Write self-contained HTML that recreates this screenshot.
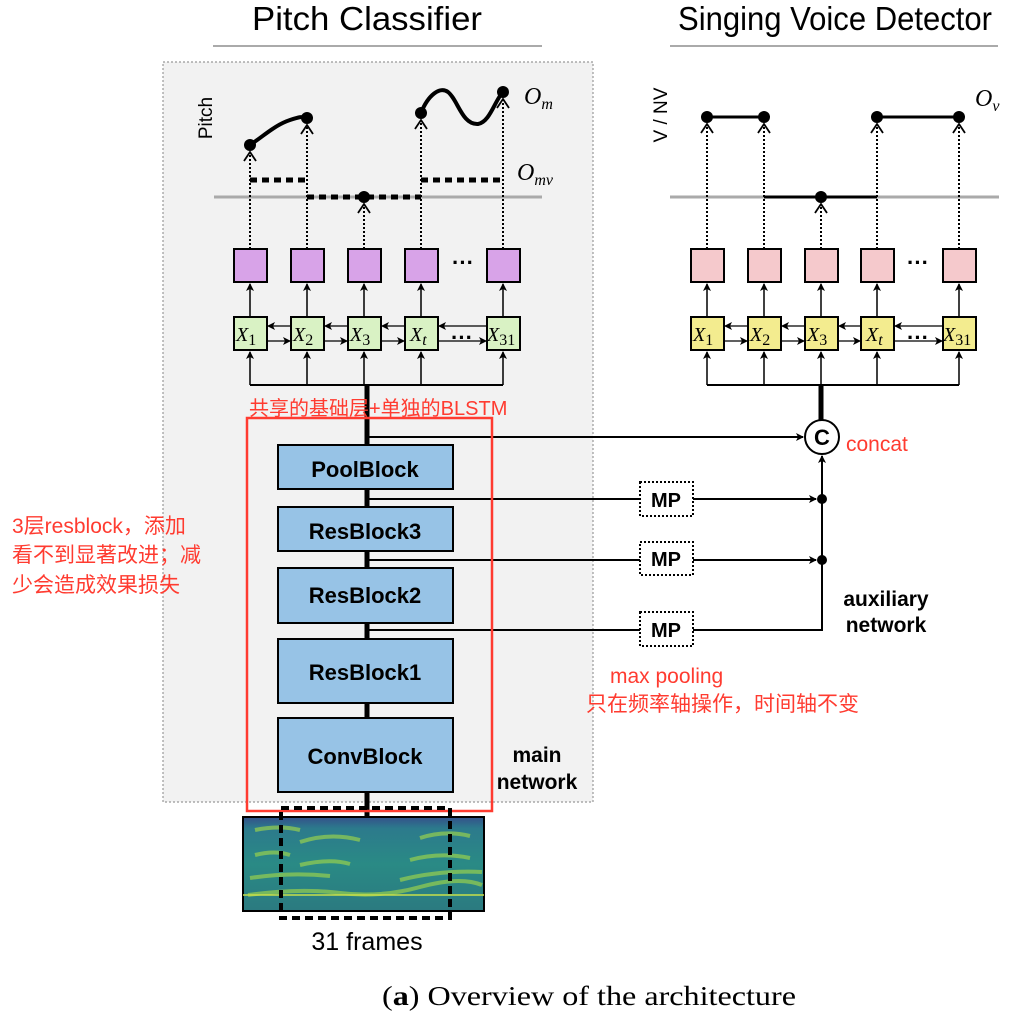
<!DOCTYPE html>
<html><head><meta charset="utf-8"><style>
html,body{margin:0;padding:0;background:#fff;}
svg{display:block;}
.h{font-family:"Liberation Sans",Arial,sans-serif;}
.cn{font-family:"Liberation Sans","Noto Sans CJK SC",sans-serif;fill:#ff3b30;}
.s{font-family:"Liberation Serif",serif;font-style:italic;}
</style></head><body>
<svg width="1010" height="1027" viewBox="0 0 1010 1027" xmlns="http://www.w3.org/2000/svg">
<defs>
<marker id="a" markerWidth="8" markerHeight="8" refX="7" refY="4" orient="auto" markerUnits="userSpaceOnUse"><path d="M0,0 L8,4 L0,8 L2,4 z" fill="#000"/></marker>
<marker id="o" markerWidth="12" markerHeight="14" refX="10" refY="7" orient="auto" markerUnits="userSpaceOnUse"><path d="M1,1 L10,7 L1,13" fill="none" stroke="#000" stroke-width="1.8"/></marker>
<linearGradient id="sg" x1="0" y1="0" x2="0" y2="1">
<stop offset="0" stop-color="#34508a"/><stop offset="0.12" stop-color="#2c7a8c"/><stop offset="0.5" stop-color="#2a8a85"/><stop offset="1" stop-color="#2b7a80"/></linearGradient>
</defs>
<text x="367" y="30" class="h" font-size="33" text-anchor="middle" textLength="230" lengthAdjust="spacingAndGlyphs">Pitch Classifier</text>
<text x="835" y="30" class="h" font-size="33" text-anchor="middle" textLength="314" lengthAdjust="spacingAndGlyphs">Singing Voice Detector</text>
<line x1="213" y1="46" x2="542" y2="46" stroke="#aaa" stroke-width="2"/>
<line x1="670" y1="46" x2="998" y2="46" stroke="#aaa" stroke-width="2"/>
<rect x="163" y="62" width="430" height="740" fill="#f2f2f2" stroke="#999" stroke-width="1.2" stroke-dasharray="2,2"/>
<text transform="translate(212,118) rotate(-90)" class="h" font-size="19" text-anchor="middle">Pitch</text>
<text transform="translate(667,115) rotate(-90)" class="h" font-size="19" text-anchor="middle">V / NV</text>
<line x1="214" y1="197" x2="542" y2="197" stroke="#aaa" stroke-width="3"/>
<line x1="670" y1="197" x2="999" y2="197" stroke="#aaa" stroke-width="3"/>
<g stroke="#000" stroke-width="5" stroke-dasharray="7,5" fill="none">
<line x1="250" y1="180" x2="307" y2="180"/>
<line x1="307" y1="197" x2="421" y2="197"/>
<line x1="421" y1="180" x2="503" y2="180"/>
</g>
<line x1="764" y1="197" x2="877" y2="197" stroke="#000" stroke-width="3"/>
<path d="M250,145 C265,135 275,125 290,120 S300,118 307,118" stroke="#000" stroke-width="4" fill="none"/>
<path d="M421,113 C428,95 440,86 448,92 C458,100 462,125 478,124 C490,122 495,100 503,92" stroke="#000" stroke-width="4" fill="none"/>
<g fill="#000">
<circle cx="250" cy="145" r="6"/><circle cx="307" cy="118" r="6"/><circle cx="364" cy="197" r="6"/><circle cx="421" cy="113" r="6"/><circle cx="503" cy="92" r="6"/>
<circle cx="707" cy="117" r="6"/><circle cx="764" cy="117" r="6"/><circle cx="821" cy="197" r="6"/><circle cx="877" cy="117" r="6"/><circle cx="959" cy="117" r="6"/>
</g>
<line x1="707" y1="117" x2="764" y2="117" stroke="#000" stroke-width="3"/>
<line x1="877" y1="117" x2="959" y2="117" stroke="#000" stroke-width="3"/>
<g stroke="#000" stroke-width="2" stroke-dasharray="2,2" fill="none" marker-end="url(#o)">
<line x1="250" y1="249" x2="250" y2="152"/>
<line x1="307" y1="249" x2="307" y2="125"/>
<line x1="364" y1="249" x2="364" y2="204"/>
<line x1="421" y1="249" x2="421" y2="120"/>
<line x1="503" y1="249" x2="503" y2="99"/>
<line x1="707" y1="249" x2="707" y2="124"/>
<line x1="764" y1="249" x2="764" y2="124"/>
<line x1="821" y1="249" x2="821" y2="204"/>
<line x1="877" y1="249" x2="877" y2="124"/>
<line x1="959" y1="249" x2="959" y2="124"/>
</g>
<text x="524" y="104" class="s" font-size="24">O<tspan font-size="16" dy="5">m</tspan></text>
<text x="517" y="180" class="s" font-size="24">O<tspan font-size="16" dy="5">mv</tspan></text>
<text x="975" y="106" class="s" font-size="24">O<tspan font-size="16" dy="5">v</tspan></text>
<g stroke="#000" stroke-width="2">
<g fill="#d8a3e8">
<rect x="234" y="249" width="33" height="33"/><rect x="291" y="249" width="33" height="33"/><rect x="348" y="249" width="33" height="33"/><rect x="405" y="249" width="33" height="33"/><rect x="487" y="249" width="33" height="33"/>
</g>
<g fill="#f5c9cc">
<rect x="691" y="249" width="33" height="33"/><rect x="748" y="249" width="33" height="33"/><rect x="805" y="249" width="33" height="33"/><rect x="861" y="249" width="33" height="33"/><rect x="943" y="249" width="33" height="33"/>
</g>
</g>
<text x="463" y="270" class="h" font-size="22" font-weight="bold" text-anchor="middle">···</text>
<text x="918" y="270" class="h" font-size="22" font-weight="bold" text-anchor="middle">···</text>
<g stroke="#000" stroke-width="1.5" marker-end="url(#a)">
<line x1="250" y1="316" x2="250" y2="284"/><line x1="307" y1="316" x2="307" y2="284"/><line x1="364" y1="316" x2="364" y2="284"/><line x1="421" y1="316" x2="421" y2="284"/><line x1="503" y1="316" x2="503" y2="284"/>
<line x1="707" y1="316" x2="707" y2="284"/><line x1="764" y1="316" x2="764" y2="284"/><line x1="821" y1="316" x2="821" y2="284"/><line x1="877" y1="316" x2="877" y2="284"/><line x1="959" y1="316" x2="959" y2="284"/>
<line x1="250" y1="385" x2="250" y2="352"/><line x1="307" y1="385" x2="307" y2="352"/><line x1="364" y1="385" x2="364" y2="352"/><line x1="421" y1="385" x2="421" y2="352"/><line x1="503" y1="385" x2="503" y2="352"/>
<line x1="707" y1="385" x2="707" y2="352"/><line x1="764" y1="385" x2="764" y2="352"/><line x1="821" y1="385" x2="821" y2="352"/><line x1="877" y1="385" x2="877" y2="352"/><line x1="959" y1="385" x2="959" y2="352"/>
</g>
<g stroke="#000" stroke-width="1.2" marker-end="url(#a)">
<line x1="291" y1="326" x2="268" y2="326"/><line x1="348" y1="326" x2="325" y2="326"/><line x1="405" y1="326" x2="382" y2="326"/><line x1="487" y1="326" x2="439" y2="326"/>
<line x1="268" y1="341" x2="290" y2="341"/><line x1="325" y1="341" x2="347" y2="341"/><line x1="382" y1="341" x2="404" y2="341"/><line x1="439" y1="341" x2="486" y2="341"/>
<line x1="748" y1="326" x2="725" y2="326"/><line x1="805" y1="326" x2="782" y2="326"/><line x1="861" y1="326" x2="839" y2="326"/><line x1="943" y1="326" x2="895" y2="326"/>
<line x1="725" y1="341" x2="747" y2="341"/><line x1="782" y1="341" x2="804" y2="341"/><line x1="839" y1="341" x2="860" y2="341"/><line x1="895" y1="341" x2="942" y2="341"/>
</g>
<line x1="250" y1="385" x2="503" y2="385" stroke="#000" stroke-width="2"/>
<line x1="707" y1="385" x2="959" y2="385" stroke="#000" stroke-width="2"/>
<g stroke="#000" stroke-width="2">
<g fill="#d9f2c4">
<rect x="234" y="317" width="33" height="33"/><rect x="291" y="317" width="33" height="33"/><rect x="348" y="317" width="33" height="33"/><rect x="405" y="317" width="33" height="33"/><rect x="487" y="317" width="33" height="33"/>
</g>
<g fill="#f3ec8f">
<rect x="691" y="317" width="33" height="33"/><rect x="748" y="317" width="33" height="33"/><rect x="805" y="317" width="33" height="33"/><rect x="861" y="317" width="33" height="33"/><rect x="943" y="317" width="33" height="33"/>
</g>
</g>
<g class="s" font-size="20">
<text x="236" y="341">X<tspan font-style="normal" font-size="16" dy="4">1</tspan></text>
<text x="293" y="341">X<tspan font-style="normal" font-size="16" dy="4">2</tspan></text>
<text x="350" y="341">X<tspan font-style="normal" font-size="16" dy="4">3</tspan></text>
<text x="410" y="341">X<tspan font-size="16" dy="4">t</tspan></text>
<text x="487" y="341">X<tspan font-style="normal" font-size="16" dy="4">31</tspan></text>
<text x="693" y="341">X<tspan font-style="normal" font-size="16" dy="4">1</tspan></text>
<text x="750" y="341">X<tspan font-style="normal" font-size="16" dy="4">2</tspan></text>
<text x="807" y="341">X<tspan font-style="normal" font-size="16" dy="4">3</tspan></text>
<text x="866" y="341">X<tspan font-size="16" dy="4">t</tspan></text>
<text x="943" y="341">X<tspan font-style="normal" font-size="16" dy="4">31</tspan></text>
</g>
<text x="462" y="345" class="h" font-size="22" font-weight="bold" text-anchor="middle">···</text>
<text x="918" y="345" class="h" font-size="22" font-weight="bold" text-anchor="middle">···</text>
<line x1="367" y1="385" x2="367" y2="818" stroke="#000" stroke-width="5"/>
<line x1="821" y1="385" x2="821" y2="420" stroke="#000" stroke-width="5"/>
<g stroke="#000" stroke-width="2" fill="none">
<line x1="367" y1="437" x2="803" y2="437" marker-end="url(#a)"/>
<line x1="367" y1="499" x2="640" y2="499"/><line x1="693" y1="499" x2="816" y2="499" marker-end="url(#a)"/>
<line x1="367" y1="560" x2="640" y2="560"/><line x1="693" y1="560" x2="816" y2="560" marker-end="url(#a)"/>
<line x1="367" y1="630" x2="640" y2="630"/><polyline points="693,630 822,630 822,456" marker-end="url(#a)"/>
</g>
<circle cx="822" cy="499" r="5"/><circle cx="822" cy="560" r="5"/>
<circle cx="822" cy="437" r="17" fill="#fff" stroke="#000" stroke-width="2"/>
<text x="822" y="445" class="h" font-size="22" font-weight="bold" text-anchor="middle">C</text>
<g fill="#fff" stroke="#000" stroke-width="2" stroke-dasharray="2,2">
<rect x="640" y="482" width="53" height="34"/><rect x="640" y="542" width="53" height="33"/><rect x="640" y="612" width="53" height="34"/>
</g>
<g class="h" font-size="20" font-weight="bold" text-anchor="middle">
<text x="666" y="507">MP</text><text x="666" y="566">MP</text><text x="666" y="637">MP</text>
</g>
<g fill="#97c3e6" stroke="#000" stroke-width="2">
<rect x="278" y="445" width="175" height="44"/>
<rect x="278" y="507" width="175" height="44"/>
<rect x="278" y="568" width="175" height="55"/>
<rect x="278" y="639" width="175" height="64"/>
<rect x="278" y="718" width="175" height="74"/>
</g>
<g class="h" font-size="22" font-weight="bold" text-anchor="middle">
<text x="365" y="477">PoolBlock</text>
<text x="365" y="539">ResBlock3</text>
<text x="365" y="603">ResBlock2</text>
<text x="365" y="680">ResBlock1</text>
<text x="365" y="764">ConvBlock</text>
</g>
<g class="h" font-size="21" font-weight="bold" text-anchor="middle">
<text x="537" y="762">main</text><text x="537" y="789">network</text>
<text x="886" y="606">auxiliary</text><text x="886" y="632">network</text>
</g>
<rect x="247" y="418" width="245" height="393" fill="none" stroke="#ff3b30" stroke-width="2.5"/>
<rect x="243" y="817" width="241" height="94" fill="url(#sg)" stroke="#000" stroke-width="2"/>
<g stroke="#9fd64a" stroke-width="4" opacity="0.65" fill="none">
<path d="M248,895 Q300,888 340,893 T420,887 T482,885"/>
<path d="M250,878 Q290,872 330,876"/><path d="M400,880 Q440,870 482,872"/>
<path d="M300,865 Q330,858 350,864"/><path d="M410,860 Q440,852 470,858"/>
<path d="M300,842 Q330,832 360,840"/><path d="M420,838 Q445,830 470,836"/>
<path d="M255,830 Q280,825 300,830"/><path d="M255,855 Q275,850 290,855"/>
</g>
<line x1="243" y1="895" x2="484" y2="895" stroke="#c8e04a" stroke-width="1.5"/>
<g stroke="#000" stroke-width="4" stroke-dasharray="8,5" fill="none">
<polyline points="281,808 450,808 450,918 281,918 281,808"/>
</g>
<text x="367" y="950" class="h" font-size="25" text-anchor="middle">31 frames</text>
<text x="589" y="1005" font-family="Liberation Serif,serif" font-size="27" text-anchor="middle" textLength="414" lengthAdjust="spacingAndGlyphs">(<tspan font-weight="bold">a</tspan>) Overview of the architecture</text>
<text x="249" y="415" class="cn" font-size="20">共享的基础层+单独的BLSTM</text>
<text x="846" y="451" class="cn" font-size="21">concat</text>
<g class="cn" font-size="21">
<text x="12" y="533">3层resblock，添加</text>
<text x="12" y="562">看不到显著改进；减</text>
<text x="12" y="592">少会造成效果损失</text>
</g>
<text x="610" y="683" class="cn" font-size="21">max pooling</text>
<text x="586" y="711" class="cn" font-size="21">只在频率轴操作，时间轴不变</text>
</svg>
</body></html>
